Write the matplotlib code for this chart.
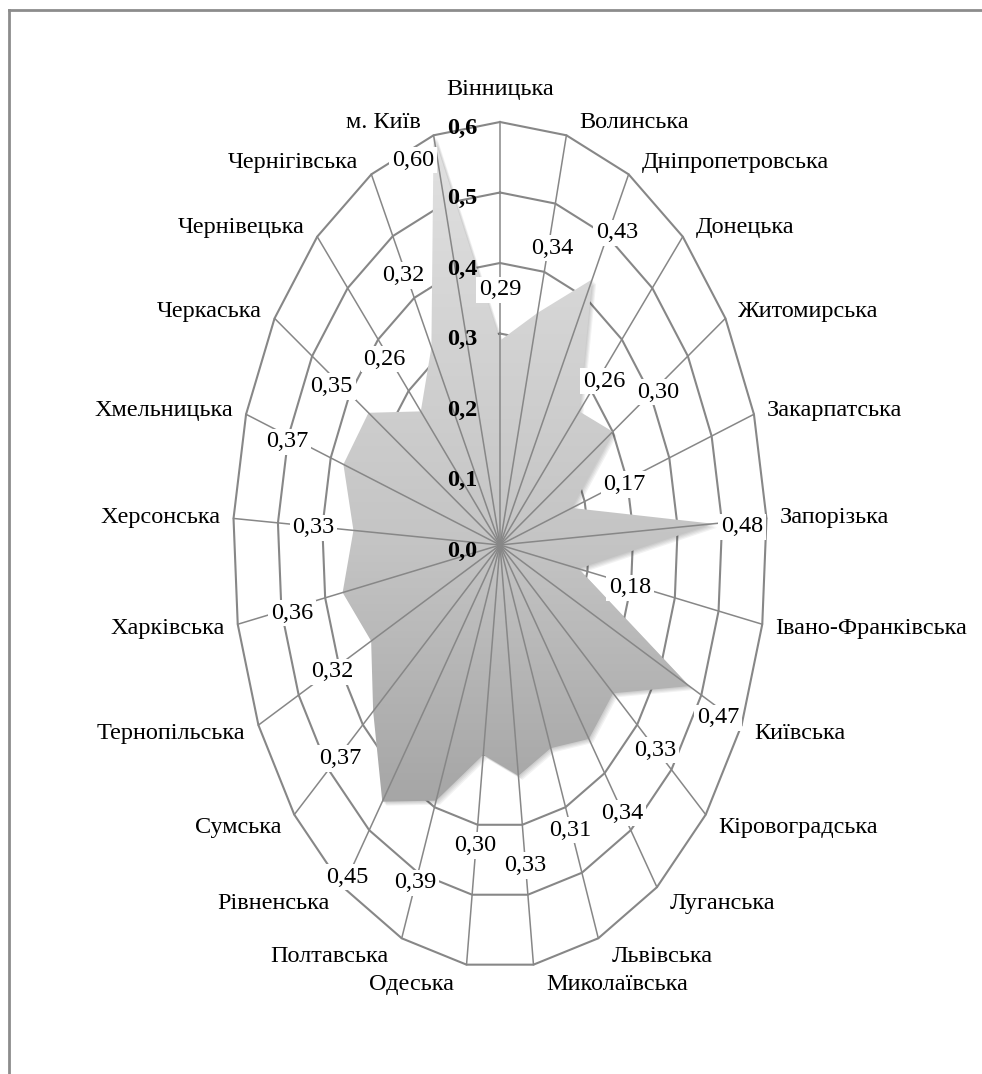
import numpy as np
import matplotlib
matplotlib.use("Agg")
import matplotlib.pyplot as plt
from matplotlib.colors import LinearSegmentedColormap
from matplotlib.lines import Line2D
from matplotlib.transforms import offset_copy

# regions, clockwise from the top
regions = ["Вінницька", "Волинська", "Дніпропетровська", "Донецька", "Житомирська",
           "Закарпатська", "Запорізька", "Івано-Франківська", "Київська", "Кіровоградська",
           "Луганська", "Львівська", "Миколаївська", "Одеська", "Полтавська",
           "Рівненська", "Сумська", "Тернопільська", "Харківська", "Херсонська",
           "Хмельницька", "Черкаська", "Чернівецька", "Чернігівська", "м. Київ"]
values = [0.29, 0.34, 0.43, 0.26, 0.30, 0.17, 0.48, 0.18, 0.47, 0.33,
          0.34, 0.31, 0.33, 0.30, 0.39, 0.45, 0.37, 0.32, 0.36, 0.33,
          0.37, 0.35, 0.26, 0.32, 0.60]
r_ticks = [0.0, 0.1, 0.2, 0.3, 0.4, 0.5, 0.6]

# where the value labels sit: extra radius and small angle nudge (deg)
label_pad = [0.072, 0.097, 0.085, 0.07, 0.116, 0.123, 0.064, 0.118, 0.078, 0.124,
             0.129, 0.124, 0.128, 0.13, 0.126, 0.133, 0.10, 0.098, 0.117, 0.09,
             0.13, 0.09, 0.11, 0.12, -0.02]
label_turn = [0, 1.1, 1.9, 2.0, 1.0, 1.0, 0.9, 1.0, 1.4, 0.3,
              0.2, 0.4, 0.1, 0.3, 0.1, 0.1, -0.5, -0.3, -0.9, -0.3,
              -1.0, -1.7, -1.4, -0.9, -5.3]

RMAX = 0.6
LINE = "#878787"
plt.rcParams['font.family'] = ['Liberation Serif', 'DejaVu Serif']
FS = 17.5

W, H = 982, 1074
fig = plt.figure(figsize=(W / 100, H / 100), dpi=100)
fig.patch.set_facecolor("white")

# frame (top and left edges visible)
fig.add_artist(Line2D([9 / W, 1], [1 - 10 / H] * 2, transform=fig.transFigure, color="#8c8c8c", lw=2))
fig.add_artist(Line2D([9 / W] * 2, [0, 1 - 10 / H], transform=fig.transFigure, color="#8c8c8c", lw=2))

cx, cy, rx, ry = 500, 545, 267, 423
rect = [(cx - rx) / W, (H - cy - ry) / H, 2 * rx / W, 2 * ry / H]
ax = fig.add_axes(rect, projection="polar")
ax.set_aspect("auto")
ax.set_autoscale_on(False)
ax.set_theta_zero_location("N")
ax.set_theta_direction(-1)

n = len(regions)
theta = np.arange(n) * 2 * np.pi / n
tc = np.append(theta, theta[0])
vc = np.append(values, values[0])

# polygon rings under the series
for r in r_ticks[1:]:
    ax.plot(tc, [r] * (n + 1), color=LINE, lw=1.5, zorder=1, clip_on=False)

# soft shadow of the area
for k in (1, 2, 3, 4):
    sh = offset_copy(ax.transData, fig=fig, x=k, y=-k, units="dots")
    ax.fill(tc, vc, facecolor="black", alpha=0.05, edgecolor="none",
            transform=sh, zorder=1.5)

# series area with vertical grey gradient
area = ax.fill(tc, vc, facecolor="none", edgecolor="none", zorder=2)[0]
cmap = LinearSegmentedColormap.from_list("g", [(0, "#9a9a9a"), (0.2, "#a6a6a6"),
                                               (0.5, "#c4c4c4"), (1, "#e2e2e2")])
grad = np.linspace(0, 1, 256).reshape(-1, 1)
im = ax.imshow(grad, extent=[0, 1, 0, 1], transform=ax.transAxes, origin="lower",
               aspect="auto", cmap=cmap, vmin=0, vmax=1, zorder=2)
im.set_clip_path(area)

# spokes over the area
for t in theta:
    ax.plot([t, t], [0, RMAX], color=LINE, lw=1.1, zorder=3, clip_on=False)

ax.set_xlim(0, 2 * np.pi)
ax.set_ylim(0, RMAX)
ax.set_xticks([])
ax.set_yticks([])
ax.grid(False)
ax.spines["polar"].set_visible(False)
ax.patch.set_visible(False)

# radial scale labels
for r in r_ticks:
    ax.annotate(f"{r:.1f}".replace(".", ","), xy=(0, r), xytext=(-23, -6),
                textcoords="offset pixels", ha="right", va="center",
                fontsize=FS, fontweight="bold", zorder=4)

# category names
for t, name in zip(theta, regions):
    s, c = np.sin(t), np.cos(t)
    if abs(s) < 0.05:
        ha, dx, dy = "center", 0, 32
    else:
        ha = "left" if s > 0 else "right"
        dx = 13 if s > 0 else -13
        dy = 13 * c if c > 0 else 20 * c
    ax.annotate(name, xy=(t, RMAX), xytext=(dx, dy), textcoords="offset pixels",
                ha=ha, va="center", fontsize=FS, zorder=4, annotation_clip=False)

# value labels
for t, v, p, d in zip(theta, values, label_pad, label_turn):
    ax.text(t + np.deg2rad(d), v + p, f"{v:.2f}".replace(".", ","), ha="center", va="center",
            fontsize=FS, zorder=5,
            bbox=dict(facecolor="white", edgecolor="none", pad=2))

fig.savefig("out.png", dpi=100)
